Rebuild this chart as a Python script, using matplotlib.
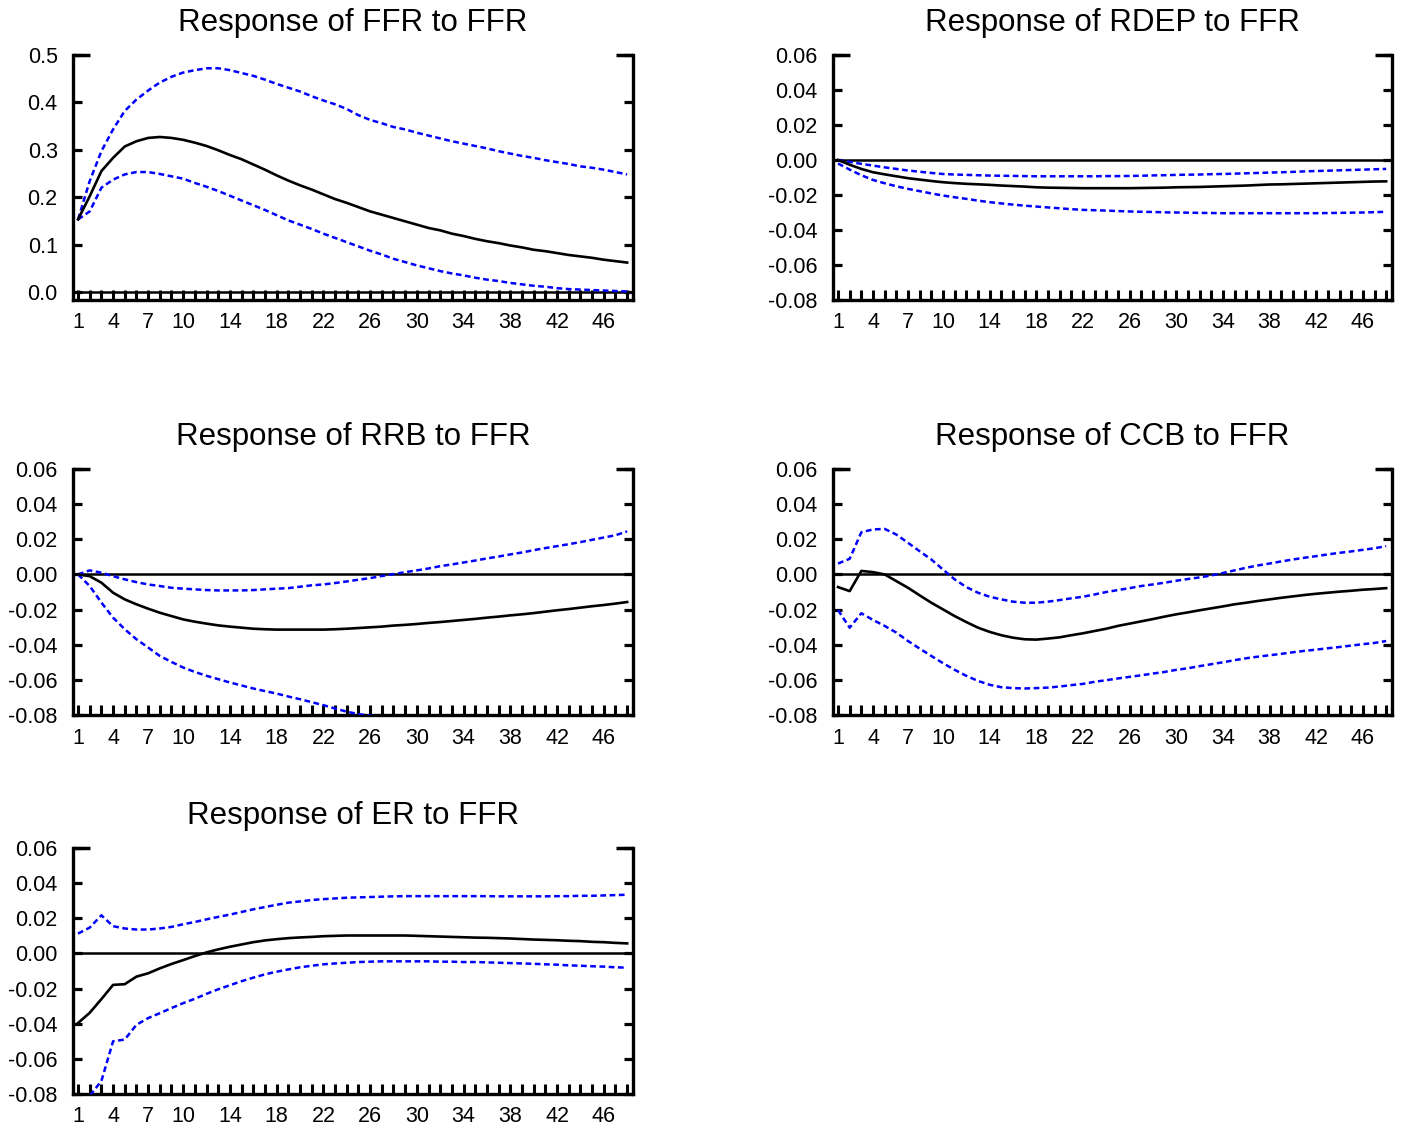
import numpy as np
import matplotlib
matplotlib.use("Agg")
import matplotlib.pyplot as plt

plt.rcParams['font.family'] = ['Liberation Sans', 'DejaVu Sans']
plt.rcParams['axes.unicode_minus'] = False

periods = list(range(1, 49))
xtick_labels = ['1', '4', '7', '10', '14', '18', '22', '26', '30', '34', '38', '42', '46']

titles = ["Response of FFR to FFR", "Response of RDEP to FFR", "Response of RRB to FFR",
          "Response of CCB to FFR", "Response of ER to FFR"]

ffr_ticks = [0.0, 0.1, 0.2, 0.3, 0.4, 0.5]
ffr_tick_labels = ['0.0', '0.1', '0.2', '0.3', '0.4', '0.5']
small_ticks = [-0.08, -0.06, -0.04, -0.02, 0.00, 0.02, 0.04, 0.06]
small_tick_labels = ['-0.08', '-0.06', '-0.04', '-0.02', '0.00', '0.02', '0.04', '0.06']

# ---- FFR to FFR ----
ffr_mid = [0.153, 0.202, 0.255, 0.283, 0.307, 0.318, 0.325, 0.327, 0.325, 0.321,
           0.315, 0.308, 0.299, 0.289, 0.280, 0.269, 0.258, 0.246, 0.235, 0.225,
           0.216, 0.206, 0.196, 0.188, 0.179, 0.170, 0.163, 0.156, 0.149, 0.142,
           0.135, 0.130, 0.123, 0.118, 0.112, 0.107, 0.103, 0.098, 0.094, 0.089,
           0.086, 0.082, 0.078, 0.075, 0.072, 0.068, 0.065, 0.062]
ffr_up = [0.153, 0.234, 0.297, 0.343, 0.382, 0.406, 0.425, 0.442, 0.454, 0.463,
          0.468, 0.472, 0.472, 0.468, 0.462, 0.456, 0.448, 0.439, 0.431, 0.423,
          0.413, 0.404, 0.396, 0.386, 0.373, 0.363, 0.356, 0.348, 0.343, 0.336,
          0.330, 0.324, 0.318, 0.313, 0.308, 0.303, 0.297, 0.292, 0.287, 0.283,
          0.278, 0.274, 0.270, 0.265, 0.262, 0.258, 0.253, 0.248]
ffr_lo = [0.153, 0.170, 0.220, 0.237, 0.248, 0.253, 0.253, 0.249, 0.244, 0.239,
          0.230, 0.222, 0.213, 0.203, 0.193, 0.183, 0.173, 0.162, 0.151, 0.142,
          0.133, 0.123, 0.114, 0.105, 0.096, 0.087, 0.079, 0.070, 0.063, 0.056,
          0.050, 0.044, 0.039, 0.035, 0.030, 0.026, 0.023, 0.019, 0.016, 0.013,
          0.011, 0.008, 0.006, 0.005, 0.004, 0.003, 0.002, 0.001]

# ---- RDEP to FFR ----
rdep_mid = [0.0, -0.0027, -0.0051, -0.0070, -0.0082, -0.0093, -0.0104, -0.0112, -0.0120, -0.0127,
            -0.0132, -0.0136, -0.0139, -0.0142, -0.0146, -0.0149, -0.0152, -0.0156, -0.0158, -0.0159,
            -0.0160, -0.0161, -0.0161, -0.0161, -0.0161, -0.0161, -0.0160, -0.0159, -0.0158, -0.0156,
            -0.0155, -0.0154, -0.0152, -0.0150, -0.0148, -0.0146, -0.0143, -0.0140, -0.0139, -0.0137,
            -0.0135, -0.0133, -0.0131, -0.0129, -0.0127, -0.0125, -0.0123, -0.0122]
rdep_up = [0.0, -0.0011, -0.0022, -0.0032, -0.0042, -0.0051, -0.0060, -0.0067, -0.0074, -0.0080,
           -0.0083, -0.0085, -0.0087, -0.0089, -0.0090, -0.0091, -0.0092, -0.0093, -0.0093, -0.0093,
           -0.0093, -0.0093, -0.0093, -0.0092, -0.0092, -0.0091, -0.0090, -0.0088, -0.0087, -0.0085,
           -0.0084, -0.0083, -0.0081, -0.0080, -0.0078, -0.0076, -0.0074, -0.0072, -0.0070, -0.0068,
           -0.0065, -0.0063, -0.0061, -0.0059, -0.0057, -0.0055, -0.0053, -0.0051]
rdep_lo = [-0.0020, -0.0055, -0.0087, -0.0114, -0.0133, -0.0150, -0.0165, -0.0178, -0.0191, -0.0203,
           -0.0213, -0.0222, -0.0232, -0.0241, -0.0248, -0.0255, -0.0261, -0.0266, -0.0271, -0.0276,
           -0.0281, -0.0285, -0.0287, -0.0289, -0.0292, -0.0294, -0.0296, -0.0297, -0.0299, -0.0300,
           -0.0301, -0.0302, -0.0303, -0.0304, -0.0304, -0.0304, -0.0304, -0.0304, -0.0304, -0.0304,
           -0.0304, -0.0304, -0.0303, -0.0302, -0.0301, -0.0300, -0.0298, -0.0296]

# ---- RRB to FFR ----
rrb_mid = [0.0, -0.0010, -0.0047, -0.0104, -0.0142, -0.0170, -0.0195, -0.0218, -0.0237, -0.0256,
           -0.0269, -0.0280, -0.0290, -0.0297, -0.0303, -0.0309, -0.0312, -0.0314, -0.0314, -0.0314,
           -0.0314, -0.0314, -0.0312, -0.0309, -0.0305, -0.0301, -0.0297, -0.0291, -0.0287, -0.0282,
           -0.0276, -0.0271, -0.0265, -0.0259, -0.0253, -0.0246, -0.0240, -0.0233, -0.0227, -0.0220,
           -0.0212, -0.0204, -0.0197, -0.0189, -0.0181, -0.0174, -0.0166, -0.0157]
rrb_up = [0.0, 0.0023, 0.0010, -0.0010, -0.0028, -0.0044, -0.0057, -0.0066, -0.0076, -0.0081,
          -0.0085, -0.0089, -0.0091, -0.0091, -0.0091, -0.0089, -0.0085, -0.0081, -0.0078, -0.0070,
          -0.0062, -0.0057, -0.0049, -0.0040, -0.0030, -0.0021, -0.0009, 0.0002, 0.0013, 0.0023,
          0.0034, 0.0047, 0.0057, 0.0068, 0.0079, 0.0091, 0.0102, 0.0114, 0.0125, 0.0138,
          0.0150, 0.0161, 0.0172, 0.0184, 0.0197, 0.0210, 0.0223, 0.0245]
rrb_lo = [0.0, -0.0066, -0.0160, -0.0246, -0.0312, -0.0369, -0.0416, -0.0464, -0.0498, -0.0530,
          -0.0555, -0.0577, -0.0596, -0.0615, -0.0632, -0.0649, -0.0664, -0.0678, -0.0695, -0.0710,
          -0.0727, -0.0744, -0.0763, -0.0781, -0.0795, -0.0804, -0.0810, -0.0814]

# ---- CCB to FFR ----
ccb_mid = [-0.0072, -0.0095, 0.0020, 0.0013, 0.0000, -0.0038, -0.0076, -0.0119, -0.0161, -0.0199,
           -0.0237, -0.0271, -0.0303, -0.0327, -0.0346, -0.0360, -0.0369, -0.0371, -0.0365, -0.0358,
           -0.0346, -0.0335, -0.0322, -0.0309, -0.0293, -0.0280, -0.0267, -0.0254, -0.0240, -0.0227,
           -0.0216, -0.0204, -0.0193, -0.0182, -0.0170, -0.0161, -0.0151, -0.0142, -0.0133, -0.0125,
           -0.0117, -0.0110, -0.0104, -0.0098, -0.0093, -0.0087, -0.0083, -0.0078]
ccb_up = [0.0062, 0.0089, 0.0240, 0.0256, 0.0259, 0.0227, 0.0180, 0.0132, 0.0085, 0.0028,
          -0.0028, -0.0072, -0.0104, -0.0127, -0.0142, -0.0155, -0.0161, -0.0161, -0.0155, -0.0146,
          -0.0136, -0.0127, -0.0114, -0.0100, -0.0089, -0.0078, -0.0066, -0.0057, -0.0047, -0.0036,
          -0.0026, -0.0017, -0.0006, 0.0008, 0.0023, 0.0038, 0.0051, 0.0062, 0.0074, 0.0085,
          0.0095, 0.0104, 0.0114, 0.0123, 0.0131, 0.0140, 0.0149, 0.0161]
ccb_lo = [-0.0203, -0.0303, -0.0221, -0.0259, -0.0293, -0.0331, -0.0379, -0.0422, -0.0464, -0.0505,
          -0.0543, -0.0577, -0.0606, -0.0628, -0.0642, -0.0647, -0.0649, -0.0647, -0.0644, -0.0638,
          -0.0630, -0.0623, -0.0611, -0.0602, -0.0592, -0.0583, -0.0574, -0.0564, -0.0555, -0.0543,
          -0.0534, -0.0522, -0.0511, -0.0500, -0.0488, -0.0477, -0.0468, -0.0460, -0.0452, -0.0443,
          -0.0435, -0.0428, -0.0420, -0.0413, -0.0405, -0.0397, -0.0390, -0.0379]

# ---- ER to FFR ----
er_mid = [-0.0396, -0.0338, -0.0260, -0.0179, -0.0175, -0.0132, -0.0113, -0.0085, -0.0060, -0.0038,
          -0.0015, 0.0006, 0.0023, 0.0038, 0.0051, 0.0064, 0.0074, 0.0081, 0.0087, 0.0091,
          0.0094, 0.0098, 0.0100, 0.0102, 0.0102, 0.0102, 0.0102, 0.0102, 0.0102, 0.0100,
          0.0098, 0.0096, 0.0094, 0.0092, 0.0090, 0.0089, 0.0087, 0.0085, 0.0082, 0.0079,
          0.0077, 0.0075, 0.0072, 0.0070, 0.0066, 0.0064, 0.0060, 0.0057]
er_up = [0.0113, 0.0147, 0.0217, 0.0155, 0.0142, 0.0136, 0.0136, 0.0142, 0.0151, 0.0166,
         0.0179, 0.0194, 0.0208, 0.0221, 0.0236, 0.0251, 0.0264, 0.0277, 0.0289, 0.0296,
         0.0304, 0.0309, 0.0313, 0.0317, 0.0319, 0.0321, 0.0323, 0.0325, 0.0326, 0.0326,
         0.0326, 0.0326, 0.0326, 0.0326, 0.0326, 0.0326, 0.0325, 0.0325, 0.0325, 0.0325,
         0.0325, 0.0326, 0.0326, 0.0328, 0.0328, 0.0330, 0.0332, 0.0334]
er_lo = [-0.0950, -0.0810, -0.0726, -0.0500, -0.0490, -0.0406, -0.0368, -0.0340, -0.0311, -0.0283,
         -0.0258, -0.0230, -0.0204, -0.0181, -0.0158, -0.0138, -0.0119, -0.0104, -0.0091, -0.0079,
         -0.0070, -0.0062, -0.0057, -0.0053, -0.0049, -0.0047, -0.0045, -0.0045, -0.0045, -0.0045,
         -0.0045, -0.0047, -0.0047, -0.0049, -0.0049, -0.0051, -0.0053, -0.0055, -0.0057, -0.0059,
         -0.0062, -0.0064, -0.0068, -0.0070, -0.0073, -0.0075, -0.0079, -0.0081]

panels = [
    (titles[0], ffr_mid, ffr_up, ffr_lo, ffr_ticks, ffr_tick_labels, (-0.017, 0.5)),
    (titles[1], rdep_mid, rdep_up, rdep_lo, small_ticks, small_tick_labels, (-0.08, 0.06)),
    (titles[2], rrb_mid, rrb_up, rrb_lo, small_ticks, small_tick_labels, (-0.08, 0.06)),
    (titles[3], ccb_mid, ccb_up, ccb_lo, small_ticks, small_tick_labels, (-0.08, 0.06)),
    (titles[4], er_mid, er_up, er_lo, small_ticks, small_tick_labels, (-0.08, 0.06)),
]

W, H = 1403, 1128
fig = plt.figure(figsize=(W / 100, H / 100), dpi=100)

col_x = [(73, 560), (833, 559)]
row_y = [(55, 300), (469, 715), (848, 1094)]

spine_lw = 2.4
xt_all = periods
xt_lab = [str(p) if str(p) in xtick_labels else '' for p in periods]

for i, (title, mid, up, lo, yt, ytl, ylim) in enumerate(panels):
    r, c = divmod(i, 2)
    x0, w = col_x[c]
    top, bot = row_y[r]
    ax = fig.add_axes([x0 / W, 1 - bot / H, w / W, (bot - top) / H])

    ax.axhline(0, color='black', lw=1.8, zorder=2)
    ax.plot(periods[:len(up)], up, color='#0000FF', lw=1.8, linestyle=(0, (2.3, 1.4)), zorder=3)
    ax.plot(periods[:len(lo)], lo, color='#0000FF', lw=1.8, linestyle=(0, (2.3, 1.4)), zorder=3)
    ax.plot(periods[:len(mid)], mid, color='black', lw=1.9, zorder=4)

    ax.set_xlim(0.57, 48.5)
    ax.set_ylim(*ylim)
    ax.set_yticks(yt)
    ax.set_yticklabels(ytl)
    ax.set_xticks(xt_all)
    ax.set_xticklabels(xt_lab)

    ax.spines['top'].set_visible(False)
    for s in ['left', 'right', 'bottom']:
        ax.spines[s].set_linewidth(spine_lw)
        ax.spines[s].set_color('black')

    ax.tick_params(axis='x', direction='in', length=7, width=2.2, labelsize=15.5, pad=9,
                   colors='black', bottom=True, top=False)
    ax.tick_params(axis='y', direction='in', length=6.5, width=2.3, labelsize=15.5, pad=11,
                   left=True, right=True, colors='black')

    # corner caps at the top of the frame
    cap = 17 / w
    ax.plot([0, cap], [1, 1], transform=ax.transAxes, color='black', lw=2.5,
            clip_on=False, solid_capstyle='butt')
    ax.plot([1 - cap, 1], [1, 1], transform=ax.transAxes, color='black', lw=2.5,
            clip_on=False, solid_capstyle='butt')

    ax.set_title(title, fontsize=22.5, pad=17)

fig.savefig('out.png', dpi=100)
